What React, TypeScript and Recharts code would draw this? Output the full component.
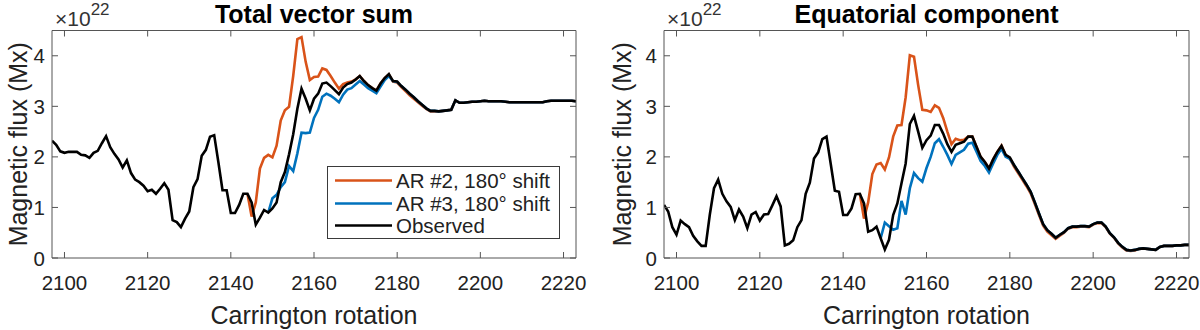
import React from 'react';
import { LineChart, Line, XAxis, YAxis } from 'recharts';

// ---------------- DATA ----------------
const CARRINGTON = [
  2097, 2098, 2099, 2100, 2101, 2102, 2103, 2104, 2105, 2106, 2107, 2108, 2109, 2110, 2111, 2112,
  2113, 2114, 2115, 2116, 2117, 2118, 2119, 2120, 2121, 2122, 2123, 2124, 2125, 2126, 2127, 2128,
  2129, 2130, 2131, 2132, 2133, 2134, 2135, 2136, 2137, 2138, 2139, 2140, 2141, 2142, 2143, 2144,
  2145, 2146, 2147, 2148, 2149, 2150, 2151, 2152, 2153, 2154, 2155, 2156, 2157, 2158, 2159, 2160,
  2161, 2162, 2163, 2164, 2165, 2166, 2167, 2168, 2169, 2170, 2171, 2172, 2173, 2174, 2175, 2176,
  2177, 2178, 2179, 2180, 2181, 2182, 2183, 2184, 2185, 2186, 2187, 2188, 2189, 2190, 2191, 2192,
  2193, 2194, 2195, 2196, 2197, 2198, 2199, 2200, 2201, 2202, 2203, 2204, 2205, 2206, 2207, 2208,
  2209, 2210, 2211, 2212, 2213, 2214, 2215, 2216, 2217, 2218, 2219, 2220, 2221, 2222, 2223,
];

// first rotation of each shifted-AR series
const AR2_START = 2144;
const AR3_START = 2149;

// Total vector sum (x 1e22 Mx), observed, 2097..2223
const TOTAL_OBS = [
  2.32, 2.24, 2.11, 2.08, 2.10, 2.10, 2.10, 2.04, 2.03, 1.98, 2.08, 2.12, 2.27, 2.41, 2.19, 2.06,
  1.95, 1.79, 1.93, 1.68, 1.55, 1.50, 1.43, 1.32, 1.35, 1.27, 1.37, 1.48, 1.35, 0.75, 0.71, 0.61,
  0.78, 0.92, 1.40, 1.56, 2.02, 2.14, 2.40, 2.43, 1.90, 1.34, 1.34, 0.89, 0.89, 1.05, 1.27, 1.27,
  1.10, 0.66, 0.80, 0.95, 0.90, 0.98, 1.10, 1.50, 1.70, 2.05, 2.45, 2.95, 3.35, 3.15, 2.92, 3.15,
  3.25, 3.45, 3.47, 3.40, 3.32, 3.24, 3.37, 3.44, 3.47, 3.53, 3.60, 3.50, 3.42, 3.36, 3.31, 3.45,
  3.56, 3.64, 3.50, 3.49, 3.40, 3.33, 3.25, 3.18, 3.10, 3.03, 2.96, 2.91, 2.91, 2.90, 2.91, 2.92,
  2.93, 3.12, 3.07, 3.07, 3.08, 3.09, 3.09, 3.10, 3.11, 3.10, 3.10, 3.10, 3.10, 3.09, 3.08, 3.08,
  3.08, 3.08, 3.08, 3.08, 3.08, 3.08, 3.08, 3.10, 3.11, 3.11, 3.11, 3.11, 3.11, 3.11, 3.10,
];

// Total vector sum, AR #2 with 180° shift, 2144..2223
const TOTAL_AR2 = [
  1.27, 0.82, 1.10, 1.77, 1.98, 2.04, 1.99, 2.22, 2.72, 2.92, 2.99, 3.60, 4.33, 4.37, 3.88, 3.52,
  3.58, 3.59, 3.75, 3.72, 3.60, 3.47, 3.35, 3.44, 3.47, 3.49, 3.53, 3.60, 3.50, 3.42, 3.36, 3.31,
  3.45, 3.56, 3.63, 3.49, 3.47, 3.38, 3.30, 3.22, 3.15, 3.08, 3.01, 2.95, 2.90, 2.90, 2.90, 2.91,
  2.92, 2.93, 3.12, 3.07, 3.07, 3.08, 3.09, 3.09, 3.10, 3.11, 3.10, 3.10, 3.10, 3.10, 3.09, 3.08,
  3.08, 3.08, 3.08, 3.08, 3.08, 3.08, 3.08, 3.08, 3.10, 3.11, 3.11, 3.11, 3.11, 3.11, 3.11, 3.10,
];

// Total vector sum, AR #3 with 180° shift, 2149..2223
const TOTAL_AR3 = [
  0.90, 1.18, 1.25, 1.40, 1.50, 1.82, 1.72, 2.07, 2.48, 2.47, 2.48, 2.77, 2.93, 3.19, 3.25, 3.21,
  3.15, 3.08, 3.23, 3.33, 3.36, 3.43, 3.50, 3.43, 3.36, 3.31, 3.26, 3.39, 3.52, 3.60, 3.50, 3.48,
  3.40, 3.33, 3.25, 3.18, 3.10, 3.03, 2.96, 2.91, 2.91, 2.90, 2.91, 2.92, 2.93, 3.12, 3.07, 3.07,
  3.08, 3.09, 3.09, 3.10, 3.11, 3.10, 3.10, 3.10, 3.10, 3.09, 3.08, 3.08, 3.08, 3.08, 3.08, 3.08,
  3.08, 3.08, 3.08, 3.10, 3.11, 3.11, 3.11, 3.11, 3.11, 3.11, 3.10,
];

// Equatorial component (x 1e22 Mx), observed, 2097..2223
const EQ_OBS = [
  1.05, 0.92, 0.61, 0.46, 0.74, 0.67, 0.61, 0.44, 0.33, 0.24, 0.24, 0.86, 1.38, 1.55, 1.27, 1.12,
  1.01, 0.75, 0.96, 0.82, 0.59, 0.86, 0.91, 0.74, 0.86, 0.87, 1.04, 1.22, 1.02, 0.25, 0.28, 0.35,
  0.61, 0.75, 1.27, 1.49, 1.97, 2.09, 2.35, 2.40, 1.87, 1.33, 1.31, 0.85, 0.85, 0.98, 1.26, 1.27,
  1.08, 0.52, 0.55, 0.62, 0.39, 0.17, 0.36, 0.85, 1.08, 1.48, 1.87, 2.65, 2.81, 2.50, 2.18, 2.33,
  2.42, 2.63, 2.63, 2.46, 2.25, 2.10, 2.24, 2.27, 2.30, 2.40, 2.40, 2.20, 2.00, 1.90, 1.77, 1.95,
  2.10, 2.22, 2.04, 1.99, 1.84, 1.71, 1.58, 1.45, 1.31, 1.10, 0.88, 0.67, 0.55, 0.48, 0.40, 0.46,
  0.51, 0.59, 0.62, 0.62, 0.63, 0.63, 0.62, 0.67, 0.70, 0.70, 0.62, 0.49, 0.41, 0.30, 0.22, 0.16,
  0.15, 0.16, 0.18, 0.19, 0.18, 0.17, 0.16, 0.22, 0.24, 0.24, 0.24, 0.25, 0.25, 0.26, 0.26,
];

// Equatorial component, AR #2 with 180° shift, 2144..2223
const EQ_AR2 = [
  1.27, 0.78, 1.10, 1.66, 1.85, 1.88, 1.75, 1.99, 2.40, 2.62, 2.63, 3.18, 4.01, 3.98, 3.42, 2.93,
  2.92, 2.89, 3.02, 2.97, 2.77, 2.50, 2.25, 2.36, 2.33, 2.34, 2.40, 2.40, 2.20, 2.00, 1.90, 1.77,
  1.95, 2.10, 2.22, 2.03, 1.97, 1.81, 1.68, 1.55, 1.42, 1.28, 1.07, 0.85, 0.64, 0.52, 0.45, 0.38,
  0.44, 0.50, 0.58, 0.61, 0.61, 0.62, 0.62, 0.61, 0.66, 0.69, 0.69, 0.61, 0.48, 0.40, 0.29, 0.21,
  0.15, 0.14, 0.15, 0.18, 0.19, 0.18, 0.17, 0.16, 0.22, 0.24, 0.24, 0.24, 0.25, 0.25, 0.26, 0.26,
];

// Equatorial component, AR #3 with 180° shift, 2149..2223
const EQ_AR3 = [
  0.39, 0.70, 0.63, 0.56, 0.59, 1.13, 0.86, 1.38, 1.68, 1.58, 1.51, 1.78, 2.00, 2.27, 2.35, 2.20,
  2.04, 1.86, 2.04, 2.09, 2.14, 2.26, 2.28, 2.10, 1.92, 1.82, 1.69, 1.87, 2.04, 2.16, 2.00, 1.96,
  1.84, 1.71, 1.58, 1.45, 1.31, 1.10, 0.88, 0.67, 0.55, 0.48, 0.40, 0.46, 0.51, 0.59, 0.62, 0.62,
  0.63, 0.63, 0.62, 0.67, 0.70, 0.70, 0.62, 0.49, 0.41, 0.30, 0.22, 0.16, 0.15, 0.16, 0.18, 0.19,
  0.18, 0.17, 0.16, 0.22, 0.24, 0.24, 0.24, 0.25, 0.25, 0.26, 0.26,
];

const X_TICKS = [2100, 2120, 2140, 2160, 2180, 2200, 2220];
const Y_TICKS = [0, 1, 2, 3, 4];
const X_DOMAIN: [number, number] = [2097, 2223];
const Y_DOMAIN: [number, number] = [0, 4.5];

const TITLES = ['Total vector sum', 'Equatorial component'];
const X_LABEL = 'Carrington rotation';
const Y_LABEL = 'Magnetic flux (Mx)';
const MULT_BASE = '×10';
const MULT_EXP = '22';

const SERIES = [
  { key: 'ar2', name: 'AR #2, 180° shift', color: '#D95319' },
  { key: 'ar3', name: 'AR #3, 180° shift', color: '#0072BD' },
  { key: 'obs', name: 'Observed', color: '#000000' },
];

// ---------------- BUILD TABLES ----------------
function buildRows(obs: number[], ar2: number[], ar3: number[]) {
  return CARRINGTON.map((cr, i) => {
    const i2 = cr - AR2_START;
    const i3 = cr - AR3_START;
    return {
      cr,
      obs: obs[i],
      ar2: i2 >= 0 ? ar2[i2] : null,
      ar3: i3 >= 0 ? ar3[i3] : null,
    };
  });
}

const TOTAL_ROWS = buildRows(TOTAL_OBS, TOTAL_AR2, TOTAL_AR3);
const EQ_ROWS = buildRows(EQ_OBS, EQ_AR2, EQ_AR3);

// ---------------- STYLE ----------------
const FONT = '"Liberation Sans", Arial, Helvetica, sans-serif';
const BOX = '#555555';
const TXT = '#222222';
const TICK_FS = 20.5;
const TICK_LEN = 6;

function BottomTick(props: any) {
  const { x, y, payload } = props;
  return (
    <g>
      <line x1={x} y1={y} x2={x} y2={y - TICK_LEN} stroke={BOX} strokeWidth={1} />
      <text x={x} y={y + 32} textAnchor="middle" fontSize={TICK_FS} fill={TXT} fontFamily={FONT}>
        {payload.value}
      </text>
    </g>
  );
}

function TopTick(props: any) {
  const { x, y } = props;
  return <line x1={x} y1={y} x2={x} y2={y + TICK_LEN} stroke={BOX} strokeWidth={1} />;
}

function LeftTick(props: any) {
  const { x, y, payload } = props;
  return (
    <g>
      <line x1={x} y1={y} x2={x + TICK_LEN} y2={y} stroke={BOX} strokeWidth={1} />
      <text x={x - 7} y={y + 7.5} textAnchor="end" fontSize={TICK_FS} fill={TXT} fontFamily={FONT}>
        {payload.value}
      </text>
    </g>
  );
}

function RightTick(props: any) {
  const { x, y } = props;
  return <line x1={x} y1={y} x2={x - TICK_LEN} y2={y} stroke={BOX} strokeWidth={1} />;
}

type PanelProps = {
  rows: any[];
  left: number;
  plotLeft: number; // within the 600px panel
  plotRight: number; // within the 600px panel
};

const PLOT_TOP = 30.5;
const PLOT_BOTTOM = 258;
const CH_W = 600;
const CH_H = 330;

function Panel({ rows, left, plotLeft, plotRight }: PanelProps) {
  return (
    <div style={{ position: 'absolute', left, top: 0, width: CH_W, height: CH_H }}>
      <LineChart
        width={CH_W}
        height={CH_H}
        data={rows}
        margin={{ top: PLOT_TOP - 1, right: CH_W - plotRight - 1, bottom: 0, left: 0 }}
      >
        <XAxis
          xAxisId="b"
          dataKey="cr"
          type="number"
          domain={X_DOMAIN}
          ticks={X_TICKS}
          allowDataOverflow
          interval={0}
          height={CH_H - PLOT_BOTTOM}
          tickSize={0}
          tickMargin={0}
          tickLine={false}
          axisLine={{ stroke: BOX, strokeWidth: 1 }}
          tick={<BottomTick />}
        />
        <XAxis
          xAxisId="t"
          orientation="top"
          dataKey="cr"
          type="number"
          domain={X_DOMAIN}
          ticks={X_TICKS}
          allowDataOverflow
          interval={0}
          height={1}
          tickSize={0}
          tickMargin={0}
          tickLine={false}
          axisLine={{ stroke: BOX, strokeWidth: 1 }}
          tick={<TopTick />}
        />
        <YAxis
          yAxisId="l"
          type="number"
          domain={Y_DOMAIN}
          ticks={Y_TICKS}
          allowDataOverflow
          interval={0}
          width={plotLeft}
          tickSize={0}
          tickMargin={0}
          tickLine={false}
          axisLine={{ stroke: BOX, strokeWidth: 1 }}
          tick={<LeftTick />}
        />
        <YAxis
          yAxisId="r"
          orientation="right"
          type="number"
          domain={Y_DOMAIN}
          ticks={Y_TICKS}
          allowDataOverflow
          interval={0}
          width={1}
          tickSize={0}
          tickMargin={0}
          tickLine={false}
          axisLine={{ stroke: BOX, strokeWidth: 1 }}
          tick={<RightTick />}
        />
        {SERIES.map((s) => (
          <Line
            key={s.key}
            xAxisId="b"
            yAxisId="l"
            type="linear"
            dataKey={s.key}
            name={s.name}
            stroke={s.color}
            strokeWidth={2.6}
            dot={false}
            activeDot={false}
            connectNulls={false}
            isAnimationActive={false}
          />
        ))}
      </LineChart>
    </div>
  );
}

function LegendBox({ left, top }: { left: number; top: number }) {
  return (
    <div
      style={{
        position: 'absolute',
        left,
        top,
        width: 231,
        height: 71,
        border: '1px solid #3a3a3a',
        background: '#ffffff',
        fontFamily: FONT,
        fontSize: 20.5,
        color: TXT,
      }}
    >
      {SERIES.map((s, i) => (
        <div
          key={s.key}
          style={{
            position: 'absolute',
            left: 0,
            top: 2 + i * 22.5,
            height: 23,
            width: 231,
            display: 'flex',
            alignItems: 'center',
            whiteSpace: 'nowrap',
          }}
        >
          <svg width={68} height={23} style={{ flex: 'none' }}>
            <line x1={7} y1={11.5} x2={64} y2={11.5} stroke={s.color} strokeWidth={2.6} />
          </svg>
          <span style={{ lineHeight: '23px' }}>{s.name}</span>
        </div>
      ))}
    </div>
  );
}

function Texts() {
  const panels = [
    { plotL: 52, plotR: 576, title: TITLES[0], ylabX: 18 },
    { plotL: 664, plotR: 1189, title: TITLES[1], ylabX: 622 },
  ];
  const midY = (PLOT_TOP + PLOT_BOTTOM) / 2;
  return (
    <svg
      width={1200}
      height={330}
      style={{ position: 'absolute', left: 0, top: 0, pointerEvents: 'none' }}
    >
      {panels.map((p, i) => {
        const cx = (p.plotL + p.plotR) / 2;
        return (
          <g key={i} fontFamily={FONT}>
            <text x={cx} y={23} textAnchor="middle" fontSize={25} fontWeight="bold" fill="#000">
              {p.title}
            </text>
            <text x={cx} y={324} textAnchor="middle" fontSize={25} fill={TXT}>
              {X_LABEL}
            </text>
            <text
              x={p.ylabX}
              y={midY}
              textAnchor="middle"
              dominantBaseline="central"
              fontSize={25}
              fill={TXT}
              transform={`rotate(-90 ${p.ylabX} ${midY})`}
            >
              {Y_LABEL}
            </text>
            <text x={p.plotL + 3} y={26} fontSize={21} fill="#333">
              {MULT_BASE}
              <tspan dy={-11} fontSize={17}>
                {MULT_EXP}
              </tspan>
            </text>
          </g>
        );
      })}
    </svg>
  );
}

export default function App() {
  return (
    <div
      style={{
        position: 'absolute',
        left: 0,
        top: 0,
        width: 1200,
        height: 330,
        background: '#ffffff',
        overflow: 'hidden',
      }}
    >
      <Panel rows={TOTAL_ROWS} left={0} plotLeft={52} plotRight={576} />
      <Panel rows={EQ_ROWS} left={600} plotLeft={64} plotRight={589} />
      <Texts />
      <LegendBox left={327} top={166} />
    </div>
  );
}
